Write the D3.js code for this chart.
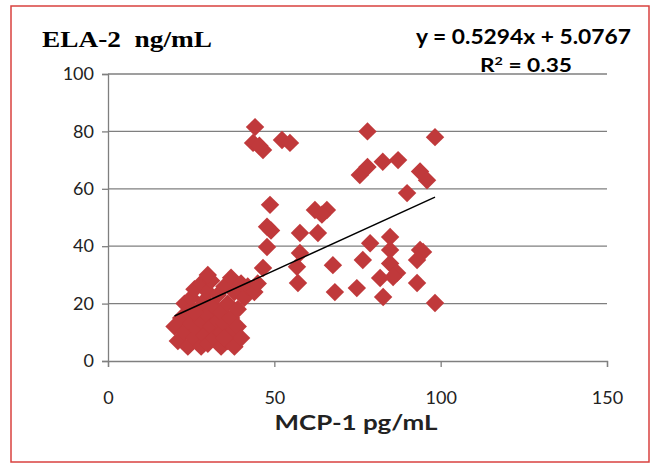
<!DOCTYPE html>
<html>
<head>
<meta charset="utf-8">
<script src="https://cdn.jsdelivr.net/npm/d3@7"></script>
<style>
  body { margin: 0; background: #fff; }
</style>
</head>
<body>
<svg width="657" height="466"></svg>
<script>
// MCP-1 (pg/mL) vs ELA-2 (ng/mL)
const mcp1 = [
  20, 21, 22, 23, 23, 24, 24, 25, 25, 26, 26, 27, 27, 28, 28, 28, 29, 29, 30, 30,
  30, 31, 31, 32, 32, 33, 33, 34, 34, 34, 35, 35, 36, 36, 37, 37, 37, 38, 38, 39,
  39, 40, 40, 41, 42, 44, 45, 30, 26, 35,
  44.2, 43.6, 46.6, 45.5, 52.3, 54.7, 48.7, 47.8, 49, 62.2, 65.8, 64.3, 57.7, 63.1,
  47.8, 46.6, 57.7, 56.8, 57.1, 67.6, 68.2, 74.8, 76.6,
  78, 98.3, 75.7, 78, 82.6, 87.2, 93.8, 95.9, 89.9,
  78.8, 84.8, 84.8, 93.8, 94.7, 92.9, 81.8, 82.7, 84.8, 86.9, 85.7, 92.9, 98.3
];
const ela2 = [
  12, 7, 15, 10, 20, 5, 17, 22, 13, 8, 25, 18, 11, 5, 27, 14, 21, 9, 24, 16,
  6, 12, 28, 19, 8, 14, 23, 10, 5, 17, 26, 13, 20, 7, 15, 29, 10, 24, 5, 18,
  12, 27, 8, 22, 26, 24, 27, 30, 17, 8,
  81.5, 76, 73.5, 75, 77, 76, 54.4, 46.8, 45.5, 52.6, 52.6, 51, 44.6, 44.6,
  39.7, 32.4, 37.6, 32.8, 27.2, 33.4, 24, 25.4, 35.2,
  80, 78, 64.8, 67.6, 69.4, 70, 66, 63, 58.5,
  41, 43.2, 38.7, 38.7, 38, 35.2, 28.9, 22.3, 34, 30.7, 29.3, 27.2, 20.2
];
const xTicks = [0, 50, 100, 150];
const yTicks = [0, 20, 40, 60, 80, 100];
const slope = 0.5294, intercept = 5.0767;

const svg = d3.select("svg");
const x = d3.scaleLinear().domain([0, 150]).range([108, 607]);
const y = d3.scaleLinear().domain([0, 100]).range([361, 74]);

// outer red frame
svg.append("rect")
  .attr("x", 11).attr("y", 6).attr("width", 638).attr("height", 456)
  .attr("fill", "none").attr("stroke", "#d9413f").attr("stroke-width", 1.5);

// gridlines
svg.append("g").selectAll("line")
  .data(yTicks.filter(d => d > 0))
  .enter().append("line")
  .attr("x1", x(0)).attr("x2", x(150))
  .attr("y1", d => y(d)).attr("y2", d => y(d))
  .attr("stroke", "#7f7f7f").attr("stroke-width", 1.3);

// axes
const yAxis = svg.append("g")
  .attr("transform", `translate(${x(0)},0)`)
  .call(d3.axisLeft(y).tickValues(yTicks).tickSize(6).tickPadding(8));
const xAxis = svg.append("g")
  .attr("transform", `translate(0,${y(0)})`)
  .call(d3.axisBottom(x).tickValues(xTicks).tickSize(6).tickPadding(24));
[xAxis, yAxis].forEach(a => {
  a.select(".domain").attr("stroke", "#7f7f7f").attr("stroke-width", 1.3);
  a.selectAll(".tick line").attr("stroke", "#7f7f7f").attr("stroke-width", 1.3);
  a.selectAll("text")
    .attr("font-family", "Lato, 'Open Sans', sans-serif")
    .attr("font-size", 18).attr("fill", "#222");
});

// square-ish diamond marker like the spreadsheet one
const diamond = {
  draw(ctx, size) {
    const r = Math.sqrt(size / 2);
    ctx.moveTo(0, -r); ctx.lineTo(r, 0); ctx.lineTo(0, r); ctx.lineTo(-r, 0); ctx.closePath();
  }
};

// points
svg.append("g").selectAll("path")
  .data(mcp1.map((d, i) => [d, ela2[i]]))
  .enter().append("path")
  .attr("d", d3.symbol(diamond, 170))
  .attr("transform", d => `translate(${x(d[0])},${y(d[1])})`)
  .attr("fill", "#c0393b");

// trendline
const xMin = d3.min(mcp1), xMax = d3.max(mcp1);
svg.append("line")
  .attr("x1", x(xMin)).attr("y1", y(slope * xMin + intercept))
  .attr("x2", x(xMax)).attr("y2", y(slope * xMax + intercept))
  .attr("stroke", "#000").attr("stroke-width", 1.5);

// texts
svg.append("text")
  .attr("x", 42).attr("y", 47)
  .attr("font-family", "'Liberation Serif', 'Times New Roman', serif")
  .attr("font-weight", "bold").attr("font-size", 23)
  .attr("xml:space", "preserve")
  .attr("textLength", 170).attr("lengthAdjust", "spacingAndGlyphs")
  .text("ELA-2  ng/mL");

svg.append("text")
  .attr("x", 416).attr("y", 44)
  .attr("font-family", "Lato, 'Open Sans', sans-serif")
  .attr("font-weight", "bold").attr("font-size", 20)
  .attr("textLength", 215).attr("lengthAdjust", "spacingAndGlyphs")
  .text(`y = ${slope}x + ${intercept}`);

const r2 = svg.append("text")
  .attr("x", 480).attr("y", 72)
  .attr("font-family", "Lato, 'Open Sans', sans-serif")
  .attr("font-weight", "bold").attr("font-size", 19)
  .attr("textLength", 92).attr("lengthAdjust", "spacingAndGlyphs");
r2.append("tspan").text("R");
r2.append("tspan").attr("dy", -7).attr("font-size", 12).text("2");
r2.append("tspan").attr("dy", 7).text(" = 0.35");

svg.append("text")
  .attr("x", 356).attr("y", 430)
  .attr("text-anchor", "middle")
  .attr("font-family", "Lato, 'Open Sans', sans-serif")
  .attr("font-weight", "bold").attr("font-size", 21).attr("fill", "#222")
  .attr("textLength", 163).attr("lengthAdjust", "spacingAndGlyphs")
  .text("MCP-1 pg/mL");
</script>
</body>
</html>
